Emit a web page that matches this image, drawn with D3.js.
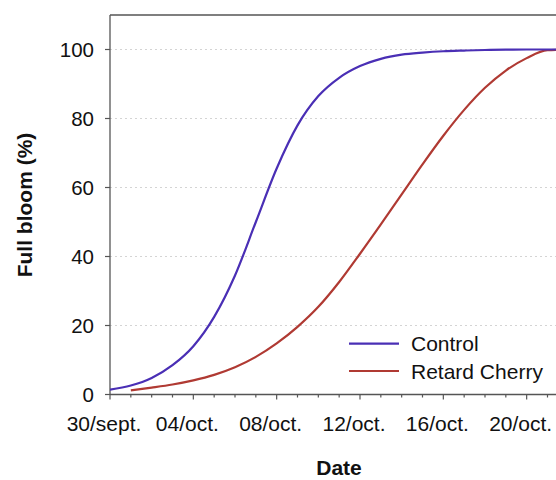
<!DOCTYPE html>
<html>
<head>
<meta charset="utf-8">
<script src="https://cdn.jsdelivr.net/npm/d3@7"></script>
<style>
html,body{margin:0;padding:0;background:#fff;}
svg{display:block;font-family:"Liberation Sans",Arial,sans-serif;}
</style>
</head>
<body>
<svg id="chart" width="556" height="480"></svg>
<script>
// Days counted from 30 Sept
const controlDays = d3.range(0, 23);
const controlValues = [1.4, 2.6, 4.8, 8.5, 14.0, 22.5, 34.5, 50.0, 65.5, 78.0, 86.5, 91.8, 95.2, 97.3, 98.5, 99.1, 99.5, 99.7, 99.85, 99.95, 100, 100, 100];
const retardDays = d3.range(1, 23);
const retardValues = [1.2, 2.0, 2.9, 4.1, 5.7, 7.9, 10.9, 14.8, 19.6, 25.4, 32.6, 40.8, 49.3, 58.0, 66.7, 75.0, 82.5, 88.9, 93.9, 97.5, 99.8, 100];
const xTickDays = [0, 4, 8, 12, 16, 20];
const xTickLabels = ["30/sept.", "04/oct.", "08/oct.", "12/oct.", "16/oct.", "20/oct."];
const yTicks = [0, 20, 40, 60, 80, 100];
const seriesNames = ["Control", "Retard Cherry"];
const seriesColors = ["#4a2fb5", "#b03a33"];

const svg = d3.select("#chart");
const x = d3.scaleLinear().domain([0, 24]).range([110, 110 + 24 * 20.833]);
const y = d3.scaleLinear().domain([0, 110]).range([394.5, 15]);

// gridlines
svg.append("g").selectAll("line").data(yTicks.filter(d => d > 0)).join("line")
  .attr("x1", x(0)).attr("x2", x(24))
  .attr("y1", d => y(d)).attr("y2", d => y(d))
  .attr("stroke", "#d4d4d4").attr("stroke-width", 1).attr("stroke-dasharray", "2,3");

// top border
svg.append("line").attr("x1", x(0)).attr("x2", x(24)).attr("y1", y(110)).attr("y2", y(110))
  .attr("stroke", "#555").attr("stroke-width", 1.3);

// x axis
const xAxis = svg.append("g").attr("transform", `translate(0,${y(0)})`);
xAxis.append("line").attr("x1", x(0)).attr("x2", x(24)).attr("stroke", "#555").attr("stroke-width", 1.3);
xAxis.selectAll("line.minor").data(d3.range(0, 25)).join("line").attr("class", "minor")
  .attr("x1", d => x(d)).attr("x2", d => x(d)).attr("y1", 0)
  .attr("y2", d => xTickDays.includes(d) ? 5 : 3)
  .attr("stroke", "#555").attr("stroke-width", 1.2);
xAxis.selectAll("text").data(xTickDays).join("text")
  .attr("x", d => x(d) - 6).attr("y", 36).attr("text-anchor", "middle")
  .attr("font-size", 21).attr("fill", "#111").text((d, i) => xTickLabels[i]);

// y axis
const yAxis = svg.append("g");
yAxis.append("line").attr("x1", x(0)).attr("x2", x(0)).attr("y1", y(0)).attr("y2", y(110))
  .attr("stroke", "#555").attr("stroke-width", 1.3);
yAxis.selectAll("line.tick").data(yTicks).join("line").attr("class", "tick")
  .attr("x1", x(0) - 5).attr("x2", x(0)).attr("y1", d => y(d)).attr("y2", d => y(d))
  .attr("stroke", "#555").attr("stroke-width", 1.2);
yAxis.selectAll("text").data(yTicks).join("text")
  .attr("x", 94).attr("y", d => y(d) + 7.5).attr("text-anchor", "end")
  .attr("font-size", 20.5).attr("fill", "#111").text(d => d);

// axis titles
svg.append("text").attr("x", 339).attr("y", 475).attr("text-anchor", "middle")
  .attr("font-size", 21).attr("font-weight", "bold").attr("fill", "#111").text("Date");
svg.append("text").attr("transform", "translate(32,205) rotate(-90)").attr("text-anchor", "middle")
  .attr("font-size", 21).attr("font-weight", "bold").attr("fill", "#111").text("Full bloom (%)");

// curves
const line = d3.line().x(d => x(d[0])).y(d => y(d[1])).curve(d3.curveMonotoneX);
const series = [
  controlDays.map((d, i) => [d, controlValues[i]]),
  retardDays.map((d, i) => [d, retardValues[i]])
];
svg.append("clipPath").attr("id", "clip").append("rect")
  .attr("x", x(0)).attr("y", y(110)).attr("width", x(24) - x(0)).attr("height", y(0) - y(110));
const g = svg.append("g").attr("clip-path", "url(#clip)");
[1, 0].forEach(i => {
  g.append("path").datum(series[i]).attr("d", line)
    .attr("fill", "none").attr("stroke", seriesColors[i]).attr("stroke-width", 2.2);
});

// legend
const legendY = [343.7, 371];
const lg = svg.append("g");
seriesNames.forEach((name, i) => {
  lg.append("line").attr("x1", 349).attr("x2", 399).attr("y1", legendY[i]).attr("y2", legendY[i])
    .attr("stroke", seriesColors[i]).attr("stroke-width", 2.2);
  lg.append("text").attr("x", 411).attr("y", legendY[i] + 7.5).attr("font-size", 21)
    .attr("fill", "#111").text(name);
});
</script>
</body>
</html>
